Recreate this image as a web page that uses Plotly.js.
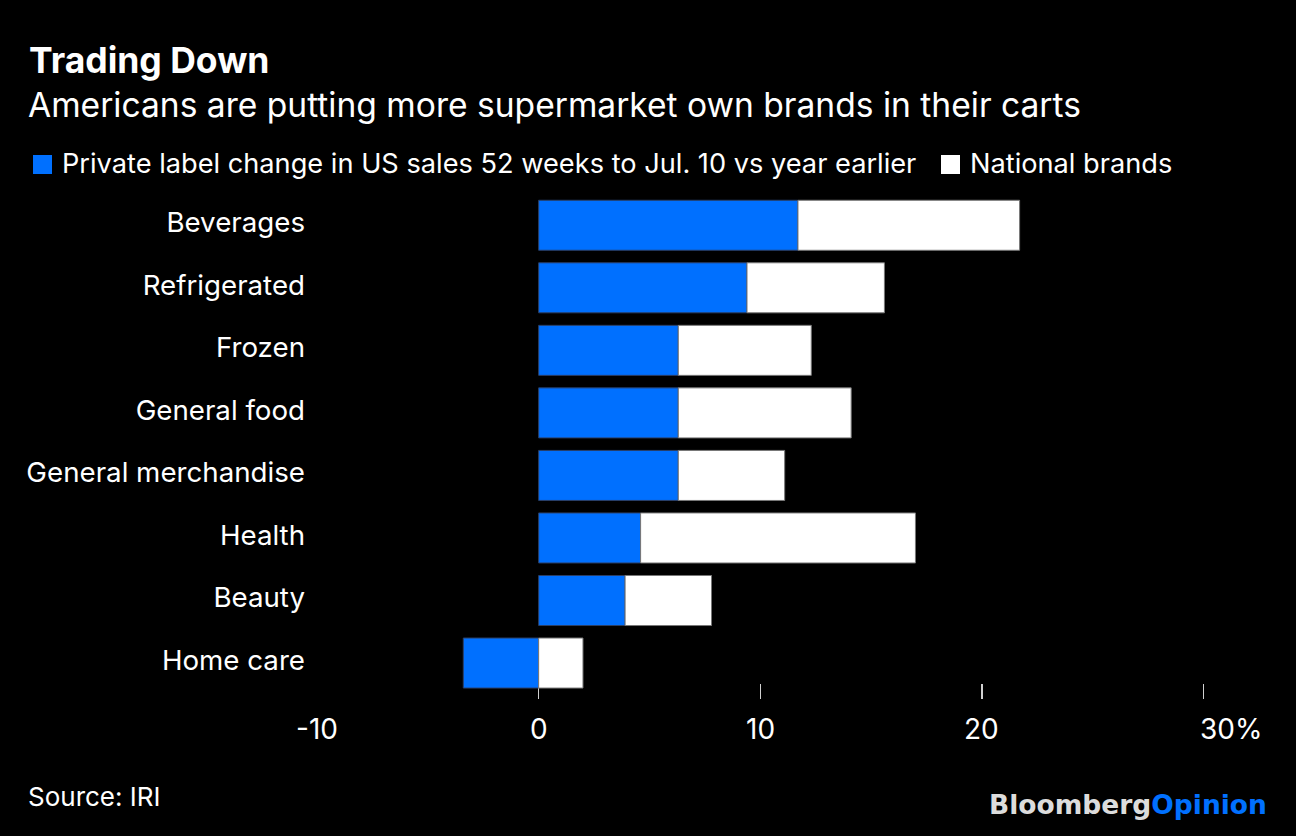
<!DOCTYPE html>
<html>
<head>
<meta charset="utf-8">
<script src="https://cdn.plot.ly/plotly-3.0.1.min.js"></script>
<style>html,body{margin:0;padding:0;background:#000;}#chart{width:1296px;height:836px;}</style>
</head>
<body>
<div id="chart"></div>
<script>
// ---- data ----
const categories = ["Beverages", "Refrigerated", "Frozen", "General food", "General merchandise", "Health", "Beauty", "Home care"];
const privateLabel = [11.7, 9.4, 6.3, 6.3, 6.3, 4.6, 3.9, -3.4];
const nationalBrands = [10.0, 6.2, 6.0, 7.8, 4.8, 12.4, 3.9, 2.0];
const seriesNames = ["Private label change in US sales 52 weeks to Jul. 10 vs year earlier", "National brands"];
const tickValues = [-10, 0, 10, 20, 30];
const tickLabels = ["-10", "0", "10", "20", "30%"];

const titleText = "Trading Down";
const subtitleText = "Americans are putting more supermarket own brands in their carts";
const sourceText = "Source: IRI";

// ---- styling ----
const BLUE = "#0070ff";
const FONT = "Inter, 'Liberation Sans', Arial, sans-serif";
const LOGO_FONT = "'DejaVu Sans', Inter, sans-serif";
const W = 1296, Hh = 836;
const L = 317, R = 37, T = 194, B = 137;
const PW = W - L - R, PH = Hh - T - B;
const px2x = p => (p - L) / PW;
const py2y = p => (Hh - B - p) / PH;

const traces = [
  {type: "bar", orientation: "h", y: categories, x: privateLabel, name: seriesNames[0],
   marker: {color: BLUE, line: {color: "#2a3f66", width: 1}}, hoverinfo: "x+y", showlegend: false},
  {type: "bar", orientation: "h", y: categories, x: nationalBrands, name: seriesNames[1],
   marker: {color: "#ffffff", line: {color: "#777777", width: 1}}, hoverinfo: "x+y", showlegend: false}
];

const annotations = [
  {text: "<b>" + titleText + "</b>", xref: "paper", yref: "paper", x: px2x(27), y: py2y(60.5),
   xanchor: "left", yanchor: "middle", showarrow: false, font: {family: FONT, size: 35.5, color: "#fff"}},
  {text: subtitleText, xref: "paper", yref: "paper", x: px2x(26), y: py2y(104),
   xanchor: "left", yanchor: "middle", showarrow: false, font: {family: FONT, size: 33.6, color: "#fff"}},
  {text: seriesNames[0], xref: "paper", yref: "paper", x: px2x(60), y: py2y(164),
   xanchor: "left", yanchor: "middle", showarrow: false, font: {family: FONT, size: 27.2, color: "#fff"}},
  {text: seriesNames[1], xref: "paper", yref: "paper", x: px2x(968), y: py2y(164),
   xanchor: "left", yanchor: "middle", showarrow: false, font: {family: FONT, size: 27.2, color: "#fff"}},
  {text: sourceText, xref: "paper", yref: "paper", x: px2x(26), y: py2y(796),
   xanchor: "left", yanchor: "middle", showarrow: false, font: {family: FONT, size: 26, color: "#fff"}},
  {text: "<b><span style='color:#dcdcdc'>Bloomberg</span><span style='color:" + BLUE + "'>Opinion</span></b>", xref: "paper", yref: "paper", x: px2x(1269), y: py2y(804),
   xanchor: "right", yanchor: "middle", showarrow: false, font: {family: LOGO_FONT, size: 26.5, color: "#dcdcdc"}}
];
// tick labels (drawn as annotations so "30%" can sit like the original)
tickValues.forEach((v, i) => {
  const last = i === tickValues.length - 1;
  annotations.push({text: tickLabels[i], xref: "x", yref: "paper", x: v, y: py2y(729),
    xanchor: last ? "left" : "center", xshift: last ? -6 : 0, yanchor: "middle", showarrow: false,
    font: {family: FONT, size: 28, color: "#fff"}});
});

const shapes = [
  {type: "rect", xref: "paper", yref: "paper", x0: px2x(33), x1: px2x(52), y0: py2y(174), y1: py2y(155), fillcolor: BLUE, line: {width: 0}},
  {type: "rect", xref: "paper", yref: "paper", x0: px2x(941), x1: px2x(960), y0: py2y(174), y1: py2y(155), fillcolor: "#ffffff", line: {width: 0}}
];

const layout = {
  width: W, height: Hh,
  paper_bgcolor: "#000", plot_bgcolor: "#000",
  margin: {l: L, r: R, t: T, b: B, pad: 0},
  barmode: "relative", bargap: 0.2,
  font: {family: FONT, color: "#fff"},
  showlegend: false,
  xaxis: {range: [-10, 32.5], tickvals: tickValues.filter(v => v >= 0), showticklabels: false,
          ticks: "inside", ticklen: 15, tickcolor: "#d0d0d0", tickwidth: 1.5, layer: "below traces",
          showgrid: false, zeroline: false, showline: false, fixedrange: true},
  yaxis: {type: "category", categoryorder: "array", categoryarray: categories, range: [7.575, -0.5],
          showgrid: false, zeroline: false, showline: false, ticks: "", ticklabelstandoff: 11,
          ticklabelshift: 3,
          tickfont: {family: FONT, size: 27.7, color: "#fff"}, fixedrange: true},
  annotations: annotations,
  shapes: shapes
};

Plotly.newPlot("chart", traces, layout, {displayModeBar: false, staticPlot: true});
</script>
</body>
</html>
